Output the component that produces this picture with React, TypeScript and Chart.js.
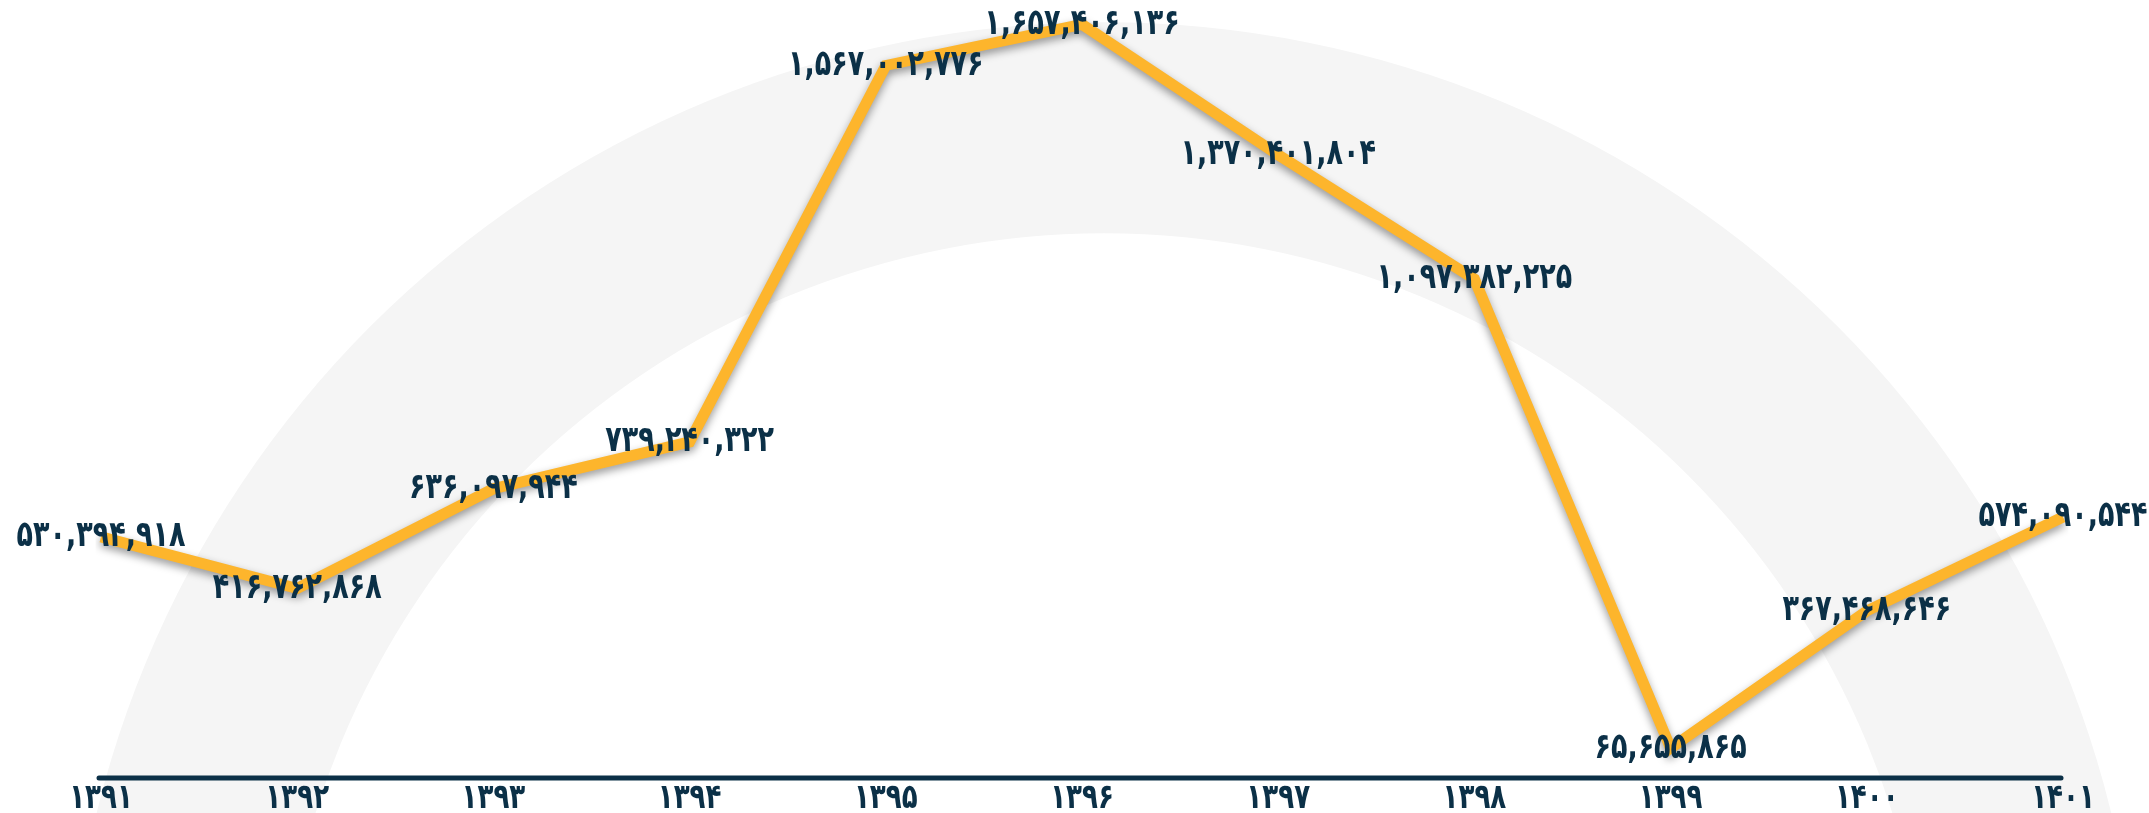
import React, { useEffect, useRef } from "react";
import { Chart, registerables } from "chart.js";

Chart.register(...registerables);

const years: string[] = ["۱۳۹۱", "۱۳۹۲", "۱۳۹۳", "۱۳۹۴", "۱۳۹۵", "۱۳۹۶", "۱۳۹۷", "۱۳۹۸", "۱۳۹۹", "۱۴۰۰", "۱۴۰۱"];
const amounts: number[] = [
  530394918, 416762868, 636097944, 739240322, 1567002776, 1657406136,
  1370401804, 1097382225, 65655865, 367468646, 574090544,
];
const yMin = 0;
const yMax = 1700000000;

const NAVY = "#0b3047";
const LINE = "#fdb52c";
const FONT = "'DejaVu Sans Condensed', 'DejaVu Sans', sans-serif";

const toFa = (n: number) =>
  n.toLocaleString("en-US").replace(/\d/g, (d) => "۰۱۲۳۴۵۶۷۸۹"[+d]);

const ringPlugin = {
  id: "ring",
  beforeDraw(chart: any) {
    const { ctx, width, height } = chart;
    const cx = width * 0.5137;
    const cy = height * 1.303;
    ctx.save();
    ctx.fillStyle = "#f5f5f5";
    ctx.beginPath();
    ctx.arc(cx, cy, 1037, 0, Math.PI * 2);
    ctx.arc(cx, cy, 826, 0, Math.PI * 2, true);
    ctx.fill("evenodd");
    ctx.restore();
  },
};

const axisPlugin = {
  id: "axisLine",
  beforeDatasetsDraw(chart: any) {
    const { ctx, chartArea } = chart;
    ctx.save();
    ctx.strokeStyle = NAVY;
    ctx.lineWidth = 5;
    ctx.lineCap = "round";
    ctx.beginPath();
    ctx.moveTo(chartArea.left - 2, chartArea.bottom);
    ctx.lineTo(chartArea.right - 2, chartArea.bottom);
    ctx.stroke();
    ctx.restore();
  },
  afterDraw(chart: any) {
    const { ctx, chartArea } = chart;
    const xs = chart.scales.x;
    ctx.save();
    ctx.fillStyle = NAVY;
    ctx.font = `bold 29px ${FONT}`;
    ctx.textAlign = "center";
    ctx.textBaseline = "middle";
    xs.ticks.forEach((t: any, i: number) => {
      const x = xs.getPixelForTick(i);
      ctx.save();
      ctx.translate(x, chartArea.bottom + 21);
      ctx.scale(1, 1.2);
      ctx.fillText(xs.getLabelForValue(t.value), 0, 0);
      ctx.restore();
    });
    ctx.restore();
  },
};

const shadowPlugin = {
  id: "lineShadow",
  beforeDatasetDraw(chart: any) {
    const ctx = chart.ctx;
    ctx.save();
    ctx.shadowColor = "rgba(0,0,0,0.4)";
    ctx.shadowBlur = 8;
    ctx.shadowOffsetX = 0;
    ctx.shadowOffsetY = 4;
  },
  afterDatasetDraw(chart: any) {
    chart.ctx.restore();
  },
};

const labelPlugin = {
  id: "valueLabels",
  afterDatasetsDraw(chart: any) {
    const { ctx } = chart;
    const meta = chart.getDatasetMeta(0);
    ctx.save();
    ctx.fillStyle = NAVY;
    ctx.font = `bold 30px ${FONT}`;
    ctx.textAlign = "center";
    ctx.textBaseline = "middle";
    meta.data.forEach((pt: any, i: number) => {
      ctx.save();
      ctx.translate(pt.x, pt.y);
      ctx.scale(1, 1.2);
      ctx.fillText(toFa(amounts[i]), 0, 0);
      ctx.restore();
    });
    ctx.restore();
  },
};

export default function App() {
  const ref = useRef<HTMLCanvasElement | null>(null);
  useEffect(() => {
    if (!ref.current) return;
    const chart = new Chart(ref.current, {
      type: "line",
      data: {
        labels: years,
        datasets: [
          {
            data: amounts,
            borderColor: LINE,
            borderWidth: 11,
            pointRadius: 0,
            pointHoverRadius: 0,
            tension: 0,
            fill: false,
          },
        ],
      },
      options: {
        animation: false,
        responsive: false,
        devicePixelRatio: 1,
        layout: { padding: { left: 101, right: 86, top: 5, bottom: 35 } },
        plugins: { legend: { display: false }, tooltip: { enabled: false } },
        scales: {
          x: {
            offset: false,
            grid: { display: false, drawTicks: false },
            border: { display: false },
            ticks: { display: false, autoSkip: false, maxRotation: 0 },
          },
          y: { display: false, min: yMin, max: yMax },
        },
      },
      plugins: [ringPlugin, axisPlugin, shadowPlugin, labelPlugin],
    });
    return () => chart.destroy();
  }, []);
  return (
    <div style={{ position: "fixed", left: 0, top: 0, width: 2149, height: 813, background: "#fff" }}>
      <canvas ref={ref} width={2149} height={813} style={{ width: 2149, height: 813 }} />
    </div>
  );
}
